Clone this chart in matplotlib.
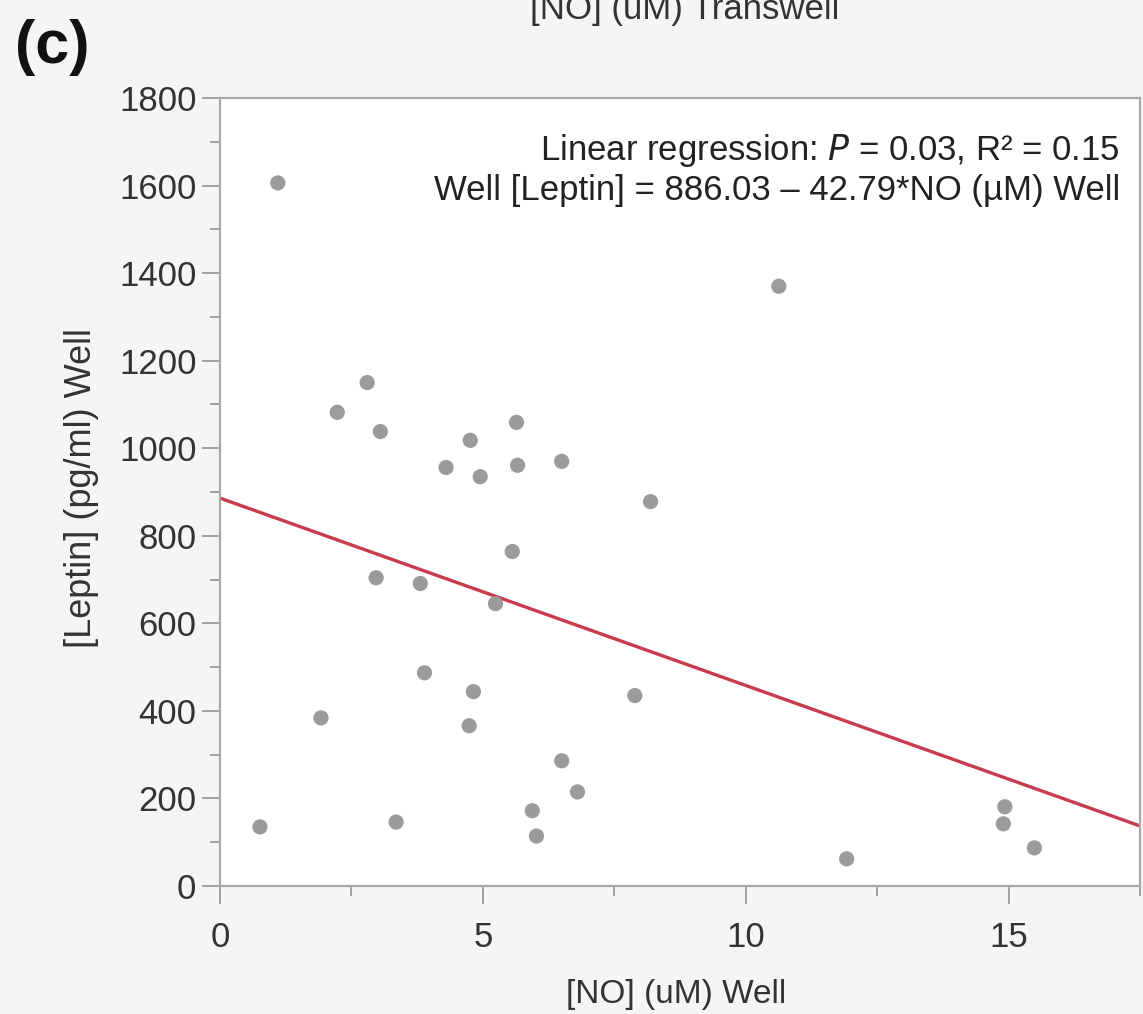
import matplotlib
matplotlib.use("Agg")
import matplotlib.pyplot as plt
from matplotlib.ticker import MultipleLocator
import numpy as np

# ---- data ----
no_well = [1.10, 2.23, 2.80, 3.05, 4.30, 4.76, 4.95, 5.64, 5.66, 6.50, 8.19, 10.63,
           5.56, 2.97, 3.81, 5.24, 3.89, 4.82, 4.74, 1.92, 7.89, 6.50, 6.80, 5.94,
           6.02, 3.35, 0.76, 11.92, 14.93, 14.90, 15.49]
leptin_well = [1606, 1082, 1150, 1038, 956, 1018, 935, 1059, 961, 970, 878, 1370,
               764, 704, 691, 645, 487, 444, 366, 384, 435, 286, 215, 172,
               114, 146, 135, 62, 181, 142, 87]
intercept = 886.03
slope = -42.79
x_ticks = [0, 5, 10, 15]
y_ticks = [0, 200, 400, 600, 800, 1000, 1200, 1400, 1600, 1800]

plt.rcParams['font.family'] = ['Liberation Sans', 'DejaVu Sans']

W, H = 1143, 1014
fig = plt.figure(figsize=(W/100, H/100), dpi=100, facecolor='#f5f5f5')
ax = fig.add_axes([220/W, 1-886/H, (1140-220)/W, (886-98)/H])
ax.set_facecolor('white')

ax.scatter(no_well, leptin_well, s=120, color='#9b9b9b', edgecolors='none', zorder=3)
xl = np.array([0, 17.5])
ax.plot(xl, intercept + slope * xl, color='#c83a4e', lw=2.4, zorder=2)

ax.set_xlim(0, 17.5)
ax.set_ylim(0, 1800)
ax.set_xticks(x_ticks)
ax.set_yticks(y_ticks)
ax.xaxis.set_minor_locator(MultipleLocator(2.5))
ax.yaxis.set_minor_locator(MultipleLocator(100))

for s in ax.spines.values():
    s.set_color('#a9a9a9')
    s.set_linewidth(1.6)

ax.tick_params(axis='both', which='major', length=13, width=1.4, color='#a0a0a0',
               labelsize=25, labelcolor='#333333')
ax.tick_params(axis='both', which='minor', length=7, width=1.4, color='#a0a0a0')
ax.tick_params(axis='x', pad=12)
ax.tick_params(axis='y', pad=4)

fig.text(676/W, 1-995/H, '[NO] (uM) Well', fontsize=24, color='#333333',
         ha='center', va='center')
fig.text(82/W, 1-488/H, '[Leptin] (pg/ml) Well', fontsize=26, color='#333333',
         ha='center', va='center', rotation=90)

fig.text(1120/W, 1-160/H, 'Linear regression: $\\it{P}$ = 0.03, R\u00b2 = 0.15',
         ha='right', va='baseline', fontsize=25, color='#222222')
fig.text(1120/W, 1-200/H, 'Well [Leptin] = 886.03 \u2013 42.79*NO (\u00b5M) Well',
         ha='right', va='baseline', fontsize=25, color='#222222')

fig.text(15/W, 1-48/H, '(c)', fontsize=44, fontweight='bold',
         ha='left', va='center', color='#111111')
fig.text(685/W, 1-19/H, '[NO] (uM) Transwell', fontsize=25, ha='center',
         va='baseline', color='#333333')

fig.savefig('out.png', dpi=100, facecolor=fig.get_facecolor())
